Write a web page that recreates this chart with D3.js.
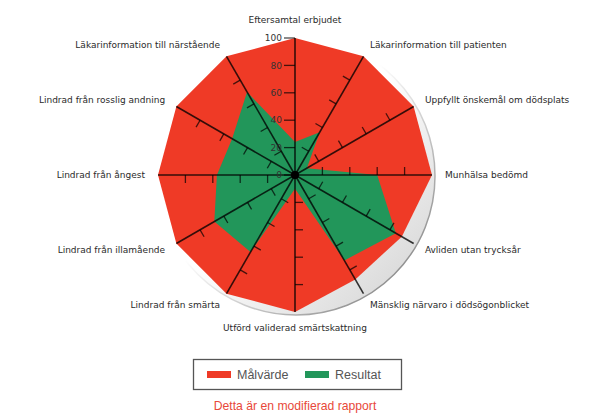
<!DOCTYPE html>
<html>
<head>
<meta charset="utf-8">
<script src="https://cdn.jsdelivr.net/npm/d3@7"></script>
<style>
  html, body { margin: 0; padding: 0; background: #ffffff; }
  svg { display: block; }
</style>
</head>
<body>
<svg id="chart" width="600" height="414"></svg>
<script>
// Indicator names, clockwise from the top
const categories = [
  "Eftersamtal erbjudet",
  "Läkarinformation till patienten",
  "Uppfyllt önskemål om dödsplats",
  "Munhälsa bedömd",
  "Avliden utan trycksår",
  "Mänsklig närvaro i dödsögonblicket",
  "Utförd validerad smärtskattning",
  "Lindrad från smärta",
  "Lindrad från illamående",
  "Lindrad från ångest",
  "Lindrad från rosslig andning",
  "Läkarinformation till närstående"
];
// Target level (Målvärde) and achieved result (Resultat), percent
const malvarde = [100, 100, 100, 100, 90, 88, 100, 100, 100, 100, 100, 100];
const resultat = [24, 36, 10, 60, 85, 72, 10, 65, 68, 57, 53, 70];
const tickValues = [0, 20, 40, 60, 80, 100];
const seriesNames = ["Målvärde", "Resultat"];

const svg = d3.select("#chart");
const cx = 295, cy = 175;
const rScale = d3.scaleLinear().domain([0, 100]).range([0, 137]);
const angle = d3.scaleLinear().domain([0, categories.length]).range([0, 2 * Math.PI]);

const RED = "#ef3a26", GREEN = "#22965a";

const defs = svg.append("defs");
const gFill = defs.append("linearGradient").attr("id", "discFill")
  .attr("x1", 0).attr("y1", 0).attr("x2", 1).attr("y2", 1);
gFill.append("stop").attr("offset", "0%").attr("stop-color", "#ffffff");
gFill.append("stop").attr("offset", "48%").attr("stop-color", "#ffffff");
gFill.append("stop").attr("offset", "100%").attr("stop-color", "#cfcfcf");
const gStroke = defs.append("linearGradient").attr("id", "discStroke")
  .attr("x1", 0).attr("y1", 0).attr("x2", 1).attr("y2", 1);
gStroke.append("stop").attr("offset", "0%").attr("stop-color", "#ffffff");
gStroke.append("stop").attr("offset", "45%").attr("stop-color", "#ffffff");
gStroke.append("stop").attr("offset", "100%").attr("stop-color", "#6a6a6a");

const g = svg.append("g").attr("transform", `translate(${cx},${cy})`);

// circular plot area
g.append("circle")
  .attr("cx", 1).attr("cy", 1)
  .attr("r", rScale(100) + 2)
  .attr("fill", "url(#discFill)")
  .attr("stroke", "url(#discStroke)")
  .attr("stroke-width", 1.5);

const radial = d3.lineRadial()
  .angle((d, i) => angle(i))
  .radius(d => rScale(d))
  .curve(d3.curveLinearClosed);

g.append("path").attr("d", radial(malvarde)).attr("fill", RED);
g.append("path").attr("d", radial(resultat)).attr("fill", GREEN);

const pt = (i, v) => {
  const a = angle(i), r = rScale(v);
  return [r * Math.sin(a), -r * Math.cos(a)];
};

// spokes
categories.forEach((c, i) => {
  const [x2, y2] = pt(i, 100);
  g.append("line")
    .attr("x1", 0).attr("y1", 0).attr("x2", x2).attr("y2", y2)
    .attr("stroke", "rgba(0,0,0,0.78)").attr("stroke-width", 1.6);
  // ticks on the counter-clockwise side of each spoke
  const a = angle(i);
  const nx = -Math.cos(a), ny = -Math.sin(a);
  const vals = i === 0 ? tickValues : tickValues.slice(1, -1);
  vals.forEach(v => {
    const [x, y] = pt(i, v);
    const len = i === 0 ? 11 : 8;
    g.append("line")
      .attr("x1", x).attr("y1", y)
      .attr("x2", x + nx * len).attr("y2", y + ny * len)
      .attr("stroke", "rgba(0,0,0,0.7)").attr("stroke-width", 1.3);
  });
});

// scale labels on the vertical axis
tickValues.forEach(v => {
  g.append("text")
    .attr("x", -13).attr("y", -rScale(v))
    .attr("dy", "0.35em")
    .attr("text-anchor", "end")
    .attr("font-family", "DejaVu Sans, sans-serif")
    .attr("font-size", 9)
    .attr("fill", "#333")
    .text(v);
});

// centre hub
g.append("circle").attr("r", 4).attr("fill", "#000");

// category labels
categories.forEach((c, i) => {
  const a = angle(i);
  const r = 150;
  let x = r * Math.sin(a), y = -r * Math.cos(a);
  const s = Math.sin(a);
  let anchor = Math.abs(s) < 0.01 ? "middle" : (s > 0 ? "start" : "end");
  if (i === 0) y -= 5;
  if (i === 6) y += 3;
  g.append("text")
    .attr("x", x).attr("y", y)
    .attr("dy", "0.35em")
    .attr("text-anchor", anchor)
    .attr("font-family", "DejaVu Sans, sans-serif")
    .attr("font-size", 9)
    .attr("fill", "#2a2a2a")
    .text(c);
});

// legend
const legend = svg.append("g");
legend.append("rect")
  .attr("x", 193.5).attr("y", 359.5).attr("width", 208).attr("height", 30)
  .attr("fill", "#fff").attr("stroke", "#555").attr("stroke-width", 1.3);
const legX = [207, 305];
const legColors = [RED, GREEN];
seriesNames.forEach((name, i) => {
  legend.append("rect")
    .attr("x", legX[i]).attr("y", 371).attr("width", 24).attr("height", 7)
    .attr("fill", legColors[i]);
  legend.append("text")
    .attr("x", legX[i] + 30).attr("y", 374.5)
    .attr("dy", "0.35em")
    .attr("font-family", "Liberation Sans, Arial, sans-serif")
    .attr("font-size", 12.5)
    .attr("fill", "#555")
    .text(name);
});

svg.append("text")
  .attr("x", 295).attr("y", 410)
  .attr("text-anchor", "middle")
  .attr("font-family", "Liberation Sans, Arial, sans-serif")
  .attr("font-size", 12.2)
  .attr("fill", "#e8483a")
  .text("Detta är en modifierad rapport");
</script>
</body>
</html>
